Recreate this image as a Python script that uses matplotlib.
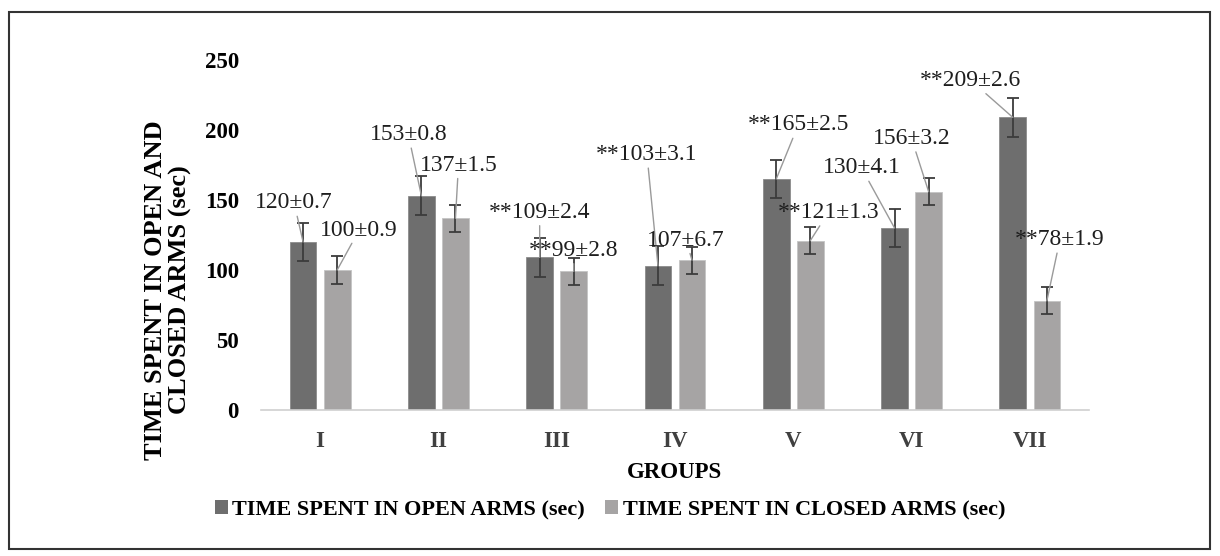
import matplotlib
matplotlib.use("Agg")
import matplotlib.pyplot as plt
from matplotlib.patches import Rectangle, Patch

plt.rcParams['font.family'] = ['Liberation Serif', 'DejaVu Serif']

# ---- data ----
groups = ["I", "II", "III", "IV", "V", "VI", "VII"]
open_arms = [120, 153, 109, 103, 165, 130, 209]
closed_arms = [100, 137, 99, 107, 121, 156, 78]
open_sd = ["0.7", "0.8", "2.4", "3.1", "2.5", "4.1", "2.6"]
closed_sd = ["0.9", "1.5", "2.8", "6.7", "1.3", "3.2", "1.9"]
open_sig = ["", "", "**", "**", "**", "", "**"]
closed_sig = ["", "", "**", "", "**", "", "**"]
open_err = [13.8, 13.8, 13.8, 13.8, 13.8, 13.8, 13.8]
closed_err = [9.7, 9.7, 9.7, 9.7, 9.7, 9.7, 9.7]
series_names = ["TIME SPENT IN OPEN ARMS (sec)", "TIME SPENT IN CLOSED ARMS (sec)"]
yticks = [0, 50, 100, 150, 200, 250]

# label offsets from each bar top, in pixels (dx, dy)
open_lbl_off = [(-9, 39), (-13, 61), (0, 45), (-11, 111), (22, 54), (-33, 60), (-42, 37)]
closed_lbl_off = [(22, 40), (3, 53), (0, 21), (-6, 20), (18, 28), (-17, 53), (13, 61)]

DARK = "#6e6e6e"
LIGHT = "#a6a4a4"

W, H, DPI = 1220, 556, 100
fig = plt.figure(figsize=(W / DPI, H / DPI), dpi=DPI)
fig.patch.set_facecolor("white")

ax_l, ax_r, ax_t, ax_b = 261, 1089, 60, 410
ax = fig.add_axes([ax_l / W, 1 - ax_b / H, (ax_r - ax_l) / W, (ax_b - ax_t) / H])

x = list(range(len(groups)))
off = 0.144
bw = 0.226
xo = [i - off for i in x]
xc = [i + off for i in x]

ax.bar(xo, open_arms, width=bw, color=DARK, edgecolor="#8c8c8c", linewidth=0.6, zorder=2)
ax.bar(xc, closed_arms, width=bw, color=LIGHT, edgecolor="#c4c4c4", linewidth=0.6, zorder=2)
ax.errorbar(xo, open_arms, yerr=open_err, fmt="none", ecolor="#3c3c3c",
            elinewidth=1.3, capsize=4, capthick=1.3, zorder=3)
ax.errorbar(xc, closed_arms, yerr=closed_err, fmt="none", ecolor="#3c3c3c",
            elinewidth=1.3, capsize=4, capthick=1.3, zorder=3)

ax.set_xlim(-0.5, len(groups) - 0.5)
ax.set_ylim(0, 250)
ax.set_yticks(yticks)
ax.set_yticklabels([str(t) for t in yticks], fontsize=16.5, fontweight="bold")
ax.set_xticks(x)
ax.set_xticklabels(groups, fontsize=16.5, fontweight="bold", color="#404040")
ax.tick_params(axis="y", length=0, pad=16)
ax.tick_params(axis="x", length=0, pad=15)
for s in ("top", "right", "left"):
    ax.spines[s].set_visible(False)
ax.spines["bottom"].set_color("#d0d0d0")
ax.spines["bottom"].set_linewidth(1.2)

ax.set_xlabel("GROUPS", fontsize=16.5, fontweight="bold", labelpad=7)

# value labels with leader lines
def put_labels(xs, vals, sig, sd, offs):
    for xi, v, s, d, (dx, dy) in zip(xs, vals, sig, sd, offs):
        ax.annotate(f"{s}{v}±{d}", xy=(xi, v), xytext=(dx, dy),
                    textcoords="offset pixels", ha="center", va="center",
                    fontsize=17, color="#1e1e1e", zorder=4,
                    arrowprops=dict(arrowstyle="-", color="#9a9a9a", lw=1.0,
                                    shrinkA=0, shrinkB=0))

put_labels(xo, open_arms, open_sig, open_sd, open_lbl_off)
put_labels(xc, closed_arms, closed_sig, closed_sd, closed_lbl_off)

fig.text(168 / W, 1 - 290 / H, "TIME SPENT IN OPEN AND\nCLOSED ARMS (sec)",
         rotation=90, ha="center", va="center", multialignment="center",
         fontsize=19, fontweight="bold", linespacing=1.05)

handles = [Patch(facecolor=DARK, edgecolor="none"), Patch(facecolor=LIGHT, edgecolor="none")]
fig.legend(handles, series_names, loc="center", bbox_to_anchor=(610 / W, 1 - 510 / H),
           ncol=2, frameon=False, handlelength=0.6, handleheight=0.6,
           handletextpad=0.2, columnspacing=0.9,
           prop={"size": 16, "weight": "bold"})

# outer frame
fig.patches.append(Rectangle((9 / W, 1 - 549 / H), (1210 - 9) / W, (549 - 12) / H,
                             transform=fig.transFigure, fill=False,
                             edgecolor="#333333", linewidth=1.5))

fig.savefig("out.png", dpi=DPI)
